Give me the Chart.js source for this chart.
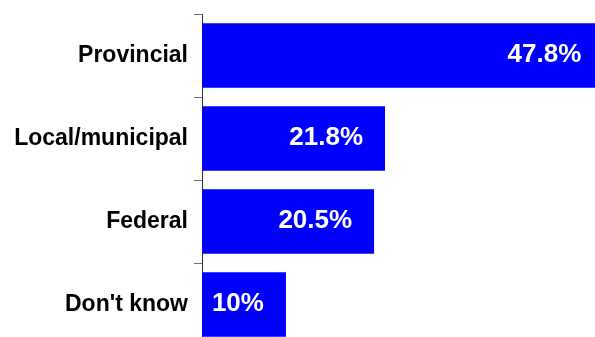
<!DOCTYPE html>
<html>
<head>
<meta charset="utf-8">
<script src="https://cdn.jsdelivr.net/npm/chart.js@4/dist/chart.umd.min.js"></script>
<style>
  html, body { margin: 0; padding: 0; background: #ffffff; overflow: hidden; }
  #wrap { width: 595px; height: 337px; overflow: hidden; position: relative; }
  canvas { position: absolute; left: 0; top: 0; }
</style>
</head>
<body>
<div id="wrap"><canvas id="chart" width="610" height="346"></canvas></div>
<script>
const categories = ["Provincial", "Local/municipal", "Federal", "Don't know"];
const shares = [47.8, 21.8, 20.5, 10];
const valueLabels = ["47.8%", "21.8%", "20.5%", "10%"];

const FONT = '"Liberation Sans", Arial, Helvetica, sans-serif';

// Writes each bar's percentage in white, right-aligned inside the bar end
const barValueLabels = {
  id: 'barValueLabels',
  afterDatasetsDraw(chart) {
    const ctx = chart.ctx;
    const meta = chart.getDatasetMeta(0);
    ctx.save();
    ctx.fillStyle = '#ffffff';
    ctx.font = 'bold 26px ' + FONT;
    ctx.textAlign = 'right';
    ctx.textBaseline = 'middle';
    meta.data.forEach((bar, i) => {
      ctx.fillText(valueLabels[i], bar.x - 22, bar.y - 1);
    });
    ctx.restore();
  }
};

new Chart(document.getElementById('chart'), {
  type: 'bar',
  data: {
    labels: categories,
    datasets: [{
      data: shares,
      backgroundColor: '#0000ff',
      borderWidth: 0,
      categoryPercentage: 1.0,
      barPercentage: 0.78
    }]
  },
  options: {
    indexAxis: 'y',
    responsive: false,
    animation: false,
    devicePixelRatio: 1,
    layout: { padding: { top: 14, right: 0, bottom: 0, left: 0 } },
    plugins: {
      legend: { display: false },
      tooltip: { enabled: false }
    },
    scales: {
      x: {
        display: false,
        min: 0,
        max: 48.6
      },
      y: {
        z: 1,
        offset: true,
        afterFit(scale) {
          scale.width = 202;
          scale.paddingTop = 0;
          scale.paddingBottom = 0;
        },
        grid: {
          offset: true,
          drawOnChartArea: false,
          tickLength: 8,
          color: '#707070',
          lineWidth: 1
        },
        border: { color: '#333333', width: 1 },
        ticks: {
          color: '#000000',
          padding: 6,
          font: { family: FONT, size: 23, weight: 'bold' }
        }
      }
    }
  },
  plugins: [barValueLabels]
});
</script>
</body>
</html>
